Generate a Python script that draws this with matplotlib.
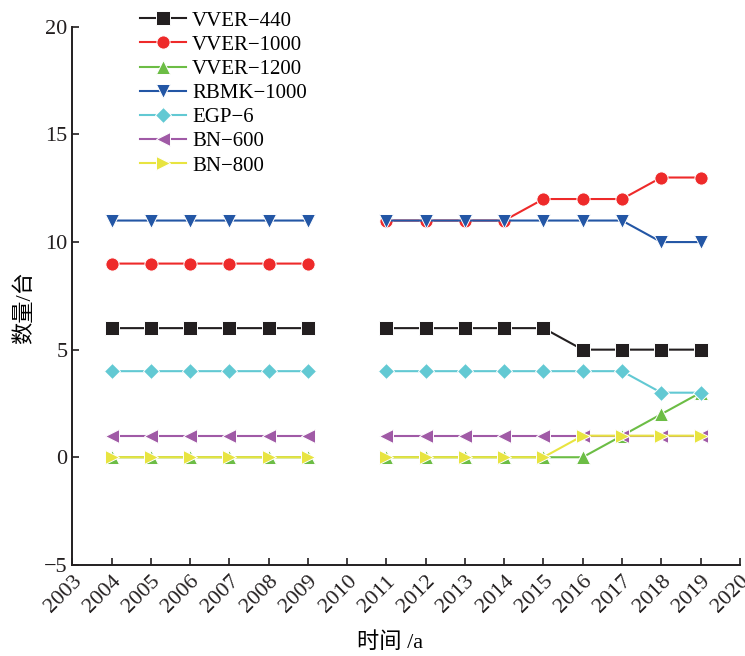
import numpy as np
import matplotlib.pyplot as plt

plt.rcParams['font.family'] = ['Liberation Serif', 'Noto Sans CJK SC']

nan = np.nan
years = list(range(2004, 2020))
# 2010 has no record, kept as NaN so the lines break there
vver_440 = [6, 6, 6, 6, 6, 6, nan, 6, 6, 6, 6, 6, 5, 5, 5, 5]
vver_1000 = [9, 9, 9, 9, 9, 9, nan, 11, 11, 11, 11, 12, 12, 12, 13, 13]
vver_1200 = [0, 0, 0, 0, 0, 0, nan, 0, 0, 0, 0, 0, 0, 1, 2, 3]
rbmk_1000 = [11, 11, 11, 11, 11, 11, nan, 11, 11, 11, 11, 11, 11, 11, 10, 10]
egp_6 = [4, 4, 4, 4, 4, 4, nan, 4, 4, 4, 4, 4, 4, 4, 3, 3]
bn_600 = [1, 1, 1, 1, 1, 1, nan, 1, 1, 1, 1, 1, 1, 1, 1, 1]
bn_800 = [0, 0, 0, 0, 0, 0, nan, 0, 0, 0, 0, 0, 1, 1, 1, 1]

series = [
    ("VVER\u2212440", vver_440, "#231f20", "s"),
    ("VVER\u22121000", vver_1000, "#ee2a2a", "o"),
    ("VVER\u22121200", vver_1200, "#6cbd45", "^"),
    ("RBMK\u22121000", rbmk_1000, "#2356a5", "v"),
    ("EGP\u22126", egp_6, "#62c9d3", "D"),
    ("BN\u2212600", bn_600, "#a05aa6", "<"),
    ("BN\u2212800", bn_800, "#e8e440", ">"),
]

fig = plt.figure(figsize=(7.45, 6.56), dpi=100)
ax = fig.add_axes([0.097, 0.139, 0.896, 0.82])

for name, vals, color, mk in series:
    ms = 8 if mk == "D" else 9.5
    ax.plot(years, vals, color=color, marker=mk, markersize=ms, linewidth=1.5,
            markeredgecolor="white", markeredgewidth=0.7, label=name)

ax.set_xlim(2003, 2020)
ax.set_ylim(-5, 20)
ax.set_xticks(range(2003, 2021))
ax.set_xticklabels([str(y) for y in range(2003, 2021)], rotation=45,
                   ha="right", va="top", rotation_mode="anchor")
ax.set_yticks([-5, 0, 5, 10, 15, 20])
ax.set_yticklabels(["\u22125", "0", "5", "10", "15", "20"])
ax.tick_params(direction="in", length=5, width=1.2, labelsize=16, colors="#231f20")
ax.tick_params(axis="x", pad=5)
ax.spines["top"].set_visible(False)
ax.spines["right"].set_visible(False)
for s in ("left", "bottom"):
    ax.spines[s].set_linewidth(1.4)
    ax.spines[s].set_color("#231f20")

ax.set_xlabel("时间 /a", fontsize=16)
ax.set_ylabel("数量/台", fontsize=16)
ax.xaxis.set_label_coords(0.476, -0.126)
ax.yaxis.set_label_coords(-0.055, 0.478)

ax.legend(loc="upper left", bbox_to_anchor=(0.089, 1.045), frameon=False,
          fontsize=15, handlelength=2.2, handletextpad=0.3, labelspacing=0.22,
          borderaxespad=0)

fig.savefig("out.png", dpi=100)
